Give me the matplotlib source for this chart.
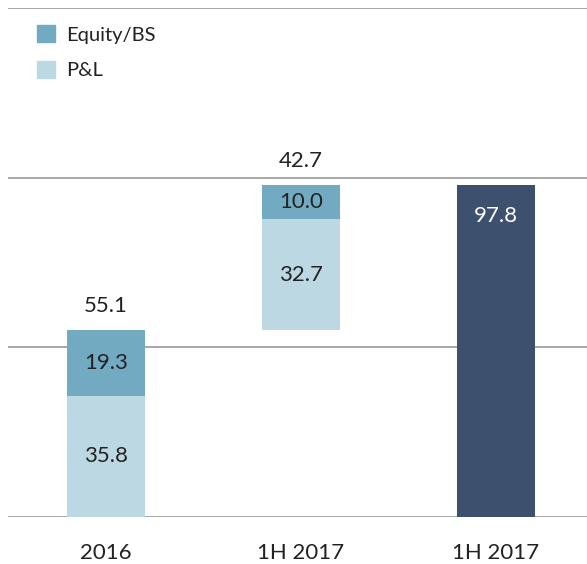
import matplotlib
matplotlib.use("Agg")
import matplotlib.pyplot as plt
from matplotlib.patches import Patch

# data
categories = ["2016", "1H 2017", "1H 2017"]
pnl = [35.8, 32.7, 0]
equity = [19.3, 10.0, 0]
totals = [55.1, 42.7, 97.8]
bases = [0, 55.1, 0]

c_equity = "#72abc1"
c_pnl = "#bcd8e2"
c_total = "#3d506d"
c_text = "#222222"
c_grid = "#a0a0a0"

plt.rcParams["font.family"] = ["Lato", "DejaVu Sans"]

fig = plt.figure(figsize=(5.87, 5.64), dpi=100)
ax = fig.add_axes([8 / 587, 47 / 564, 579 / 587, 509 / 564])

x = range(len(categories))
w = 0.4
fs = 16

# stacked bars for first two columns
for i in range(2):
    ax.bar(i, pnl[i], bottom=bases[i], width=w, color=c_pnl, zorder=3)
    ax.bar(i, equity[i], bottom=bases[i] + pnl[i], width=w, color=c_equity, zorder=3)
    ax.text(i, bases[i] + pnl[i] / 2, f"{pnl[i]:.1f}", ha="center", va="center",
            fontsize=fs, color=c_text, zorder=4)
    ax.text(i, bases[i] + pnl[i] + equity[i] / 2, f"{equity[i]:.1f}", ha="center",
            va="center", fontsize=fs, color=c_text, zorder=4)
    ax.text(i, bases[i] + totals[i] + 7, f"{totals[i]:.1f}", ha="center", va="center",
            fontsize=fs, color=c_text, zorder=4)

# total bar
ax.bar(2, totals[2], width=w, color=c_total, zorder=3)
ax.text(2, totals[2] - 9, f"{totals[2]:.1f}", ha="center", va="center",
        fontsize=fs, color="white", zorder=4)

ax.set_xlim(-0.503, 2.467)
ax.set_ylim(0, 150)
ax.set_yticks([0, 50, 100, 150])
ax.yaxis.grid(True, color=c_grid, linewidth=1.3, zorder=0)
ax.set_yticklabels([])
ax.tick_params(axis="y", length=0)
ax.set_xticks(list(x))
ax.set_xticklabels(categories, fontsize=fs, color=c_text)
ax.tick_params(axis="x", length=0, pad=19)
for s in ax.spines.values():
    s.set_visible(False)

handles = [Patch(color=c_equity, label="Equity/BS"), Patch(color=c_pnl, label="P&L")]
leg = fig.legend(handles=handles, loc="upper left", bbox_to_anchor=(0.063, 0.955),
                 frameon=False, fontsize=14.5, handlelength=0.9, handleheight=0.9,
                 labelspacing=0.85, handletextpad=0.55, borderpad=0, borderaxespad=0)
for t in leg.get_texts():
    t.set_color(c_text)

fig.savefig("out.png", dpi=100)
